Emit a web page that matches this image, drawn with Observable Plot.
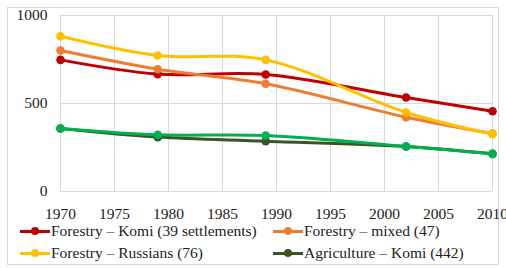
<!DOCTYPE html>
<html><head><meta charset="utf-8">
<script src="https://cdn.jsdelivr.net/npm/d3@7"></script>
<script src="https://cdn.jsdelivr.net/npm/@observablehq/plot@0.6"></script>
<style>
body{margin:0;background:#fff;font-family:"Liberation Serif","Times New Roman",Times,"DejaVu Serif",serif;}
#wrap{position:relative;width:506px;height:268px;}
#frame{position:absolute;left:7px;top:7px;width:492px;height:258px;border:1px solid #d9d9d9;box-sizing:border-box;}
#chart{position:absolute;left:0;top:0;}
#legend{position:absolute;left:0;top:222px;width:506px;font-size:15.5px;color:#222;}
.item{position:absolute;display:flex;align-items:center;white-space:nowrap;}
.sw{position:relative;width:30px;height:10px;margin-right:1px;}
.sw .ln{position:absolute;left:0;top:3.5px;width:30px;height:3px;}
.sw .dt{position:absolute;left:11px;top:1px;width:8px;height:8px;border-radius:50%;}
</style></head>
<body><div id="wrap"><div id="frame"></div><div id="chart"></div><div id="legend"></div></div>
<script>
const years = [1970, 1979, 1989, 2002, 2010];
const seriesNames = ["Forestry – Komi (39 settlements)", "Forestry – mixed (47)", "Forestry – Russians (76)", "Agriculture – Komi (442)", "Agriculture (other)"];
const komiForestry = [748, 667, 665, 534, 456];
const mixedForestry = [801, 695, 612, 422, 329];
const russiansForestry = [882, 773, 748, 449, 326];
const komiAgriculture = [358, 309, 286, 256, 214];
const otherAgriculture = [358, 322, 318, 256, 214];
const colors = ["#C00000", "#ED7D31", "#FFC000", "#375623", "#00B050"];
const xTicks = [1970, 1975, 1980, 1985, 1990, 1995, 2000, 2005, 2010];
const yTicks = [0, 500, 1000];

const FONT = '"Liberation Serif","Times New Roman",Times,"DejaVu Serif",serif';
const valuesList = [komiForestry, mixedForestry, russiansForestry, komiAgriculture, otherAgriculture];
const data = [];
valuesList.forEach((vals, si) => vals.forEach((v, i) => data.push({series: seriesNames[si], year: years[i], value: v})));
const drawOrder = [3, 4, 0, 1, 2];
const marks = [
  Plot.gridX(xTicks, {stroke: "#d9d9d9", strokeOpacity: 1, strokeWidth: 1}),
  Plot.gridY(yTicks, {stroke: "#d9d9d9", strokeOpacity: 1, strokeWidth: 1}),
  Plot.axisX(xTicks, {tickSize: 0, tickPadding: 16, tickFormat: d => String(d), fontSize: 15.5, fill: "#222", label: null}),
  Plot.axisY(yTicks, {tickSize: 0, tickPadding: 13, tickFormat: d => String(d), fontSize: 15.5, fill: "#222", label: null})
];
for (const si of drawOrder) {
  const d = data.filter(r => r.series === seriesNames[si]);
  marks.push(Plot.line(d, {x: "year", y: "value", stroke: colors[si], strokeWidth: 3, curve: "catmull-rom"}));
  marks.push(Plot.dot(d, {x: "year", y: "value", fill: colors[si], r: 4.3}));
}
const chart = Plot.plot({
  width: 506, height: 222,
  marginLeft: 60, marginRight: 14, marginTop: 15, marginBottom: 31,
  style: {fontFamily: FONT, background: "transparent", overflow: "visible"},
  x: {domain: [1970, 2010], label: null},
  y: {domain: [0, 1000], label: null},
  marks
});
document.getElementById("chart").appendChild(chart);

const legendPos = [[20, 0], [273, 0], [20, 22], [273, 22]];
const lg = document.getElementById("legend");
legendPos.forEach(([x, y], i) => {
  const it = document.createElement("div");
  it.className = "item";
  it.style.left = x + "px"; it.style.top = y + "px";
  it.innerHTML = `<div class="sw"><div class="ln" style="background:${colors[i]}"></div><div class="dt" style="background:${colors[i]}"></div></div><span>${seriesNames[i]}</span>`;
  lg.appendChild(it);
});
</script></body></html>
